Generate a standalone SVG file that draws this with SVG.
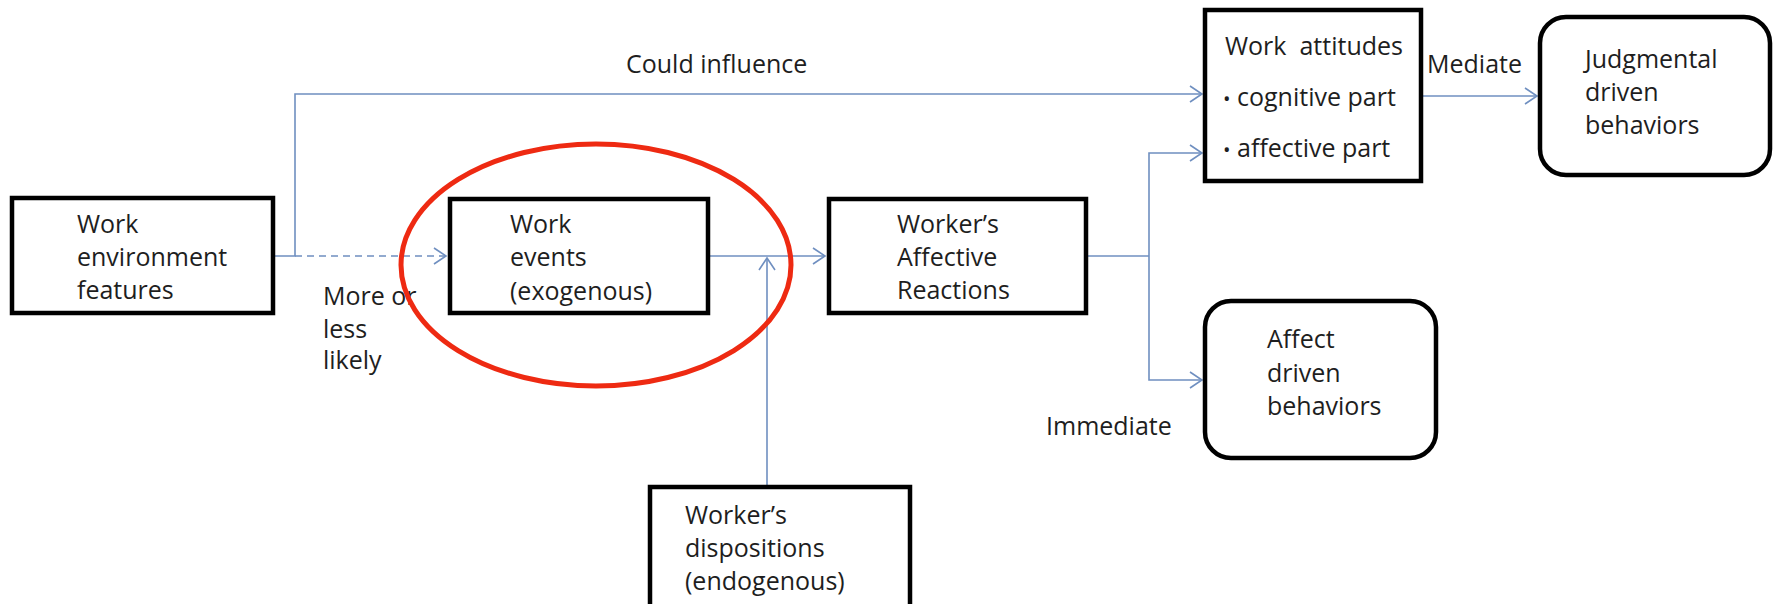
<svg xmlns="http://www.w3.org/2000/svg" width="1779" height="604" viewBox="0 0 1779 604">
<style>
.box{fill:#fff;stroke:#000;stroke-width:4.5}
.t{font-family:"Open Sans","Liberation Sans",sans-serif;font-size:25px;fill:#1e1e1e}
.c{fill:none;stroke:#6f8fc0;stroke-width:1.6}
.d{stroke-dasharray:7 5}
.hl{fill:none;stroke:#ee2a12;stroke-width:5}
.b{font-size:20px}
</style>
<defs>
<marker id="ah" markerUnits="userSpaceOnUse" markerWidth="16" markerHeight="18" refX="13" refY="9" orient="auto">
<path d="M1,1 L13,9 L1,17" fill="none" stroke="#6f8fc0" stroke-width="1.6"/>
</marker>
</defs>
<rect width="1779" height="604" fill="#fff"/>
<g id="connectors">
<path class="c" d="M275,256 H295 V94 H1202" marker-end="url(#ah)"/>
<path class="c d" d="M295,256 H446" marker-end="url(#ah)"/>
<path class="c" d="M710,256 H825" marker-end="url(#ah)"/>
<path class="c" d="M767,487 V258" marker-end="url(#ah)"/>
<path class="c" d="M1088,256 H1149"/>
<path class="c" d="M1149,256 V153 H1202" marker-end="url(#ah)"/>
<path class="c" d="M1149,256 V380 H1202" marker-end="url(#ah)"/>
<path class="c" d="M1423,96 H1537" marker-end="url(#ah)"/>
</g>
<g id="work-environment">
<rect class="box" x="12" y="198" width="261" height="115"/>
<text class="t" x="77" y="233">Work<tspan x="77" y="266">environment</tspan><tspan x="77" y="299">features</tspan></text>
</g>
<g id="work-events">
<rect class="box" x="450" y="199" width="258" height="114"/>
<text class="t" x="510" y="233">Work<tspan x="510" y="266">events</tspan><tspan x="510" y="300">(exogenous)</tspan></text>
</g>
<g id="affective-reactions">
<rect class="box" x="829" y="199" width="257" height="114"/>
<text class="t" x="897" y="233">Worker’s<tspan x="897" y="266">Affective</tspan><tspan x="897" y="299">Reactions</tspan></text>
</g>
<g id="dispositions">
<rect class="box" x="650" y="487" width="260" height="130"/>
<text class="t" x="685" y="524">Worker’s<tspan x="685" y="557">dispositions</tspan><tspan x="685" y="590">(endogenous)</tspan></text>
</g>
<g id="work-attitudes">
<rect class="box" x="1205" y="10" width="216" height="171"/>
<text class="t" x="1225" y="55" xml:space="preserve">Work  attitudes</text>
<text class="t" x="1223" y="106"><tspan class="b">•</tspan><tspan x="1237">cognitive part</tspan></text>
<text class="t" x="1223" y="157"><tspan class="b">•</tspan><tspan x="1237">affective part</tspan></text>
</g>
<g id="judgmental-behaviors">
<rect class="box" x="1540" y="17" width="230" height="158" rx="26"/>
<text class="t" x="1585" y="68">Judgmental<tspan x="1585" y="101">driven</tspan><tspan x="1585" y="134">behaviors</tspan></text>
</g>
<g id="affect-behaviors">
<rect class="box" x="1205" y="301" width="231" height="157" rx="26"/>
<text class="t" x="1267" y="348">Affect<tspan x="1267" y="382">driven</tspan><tspan x="1267" y="415">behaviors</tspan></text>
</g>
<g id="labels">
<text class="t" x="626" y="73">Could influence</text>
<text class="t" x="1427" y="73">Mediate</text>
<text class="t" x="1046" y="435">Immediate</text>
<text class="t" x="323" y="305">More or<tspan x="323" y="338">less</tspan><tspan x="323" y="369">likely</tspan></text>
</g>
<ellipse id="highlight" class="hl" cx="596" cy="265" rx="195" ry="121"/>
</svg>
